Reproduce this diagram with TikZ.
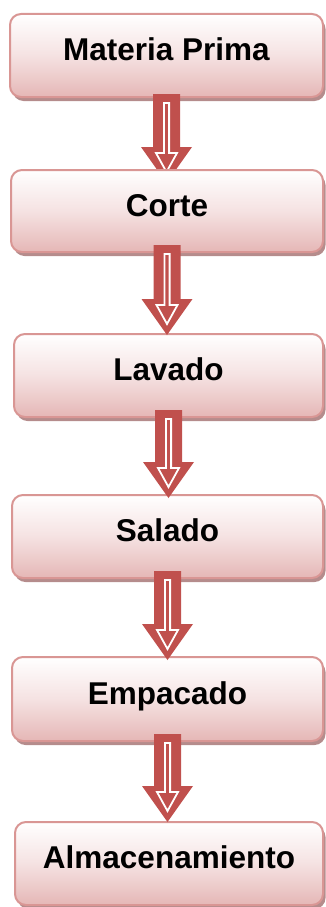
\documentclass[tikz,border=0pt]{standalone}
\usepackage{fontspec}
\setmainfont{Liberation Sans}
\usetikzlibrary{calc,shadows}

\definecolor{boxline}{RGB}{217,150,148}
\definecolor{boxbottom}{RGB}{229,183,182}
\definecolor{boxmiddle}{RGB}{245,226,226}
\definecolor{boxshadow}{RGB}{181,140,140}
\definecolor{arrowred}{RGB}{192,80,77}

\pgfdeclarelayer{boxlow}
\pgfdeclarelayer{arrowlow}
\pgfdeclarelayer{arrowtop}
\pgfsetlayers{boxlow,arrowlow,main,arrowtop}

\tikzset{
  procbox/.style={draw=boxline, line width=2pt, rounded corners=11pt,
    top color=white, bottom color=boxbottom, middle color=boxmiddle,
    inner sep=0pt, text height=23pt, text depth=12.5pt,
    font=\fontsize{31.5}{36}\selectfont\bfseries,
    drop shadow={shadow xshift=2.5pt, shadow yshift=-4pt,
      fill=boxshadow, opacity=1}},
  arrowbody/.style={fill=arrowred},
  arrowinner/.style={draw=white, line width=1.8pt, fill=arrowred, line join=miter}
}

% Hollow block arrow from the bottom of #1 to the top of #2;
% #3 = overlap into #1, #4 = distance the tip runs past the top of #2
\newcommand\flowarrow[4]{%
  \path[arrowbody] let \p1=(#1.south), \p2=(#2.north) in
    (\x1-13.5pt,\y1+#3pt) -- (\x1+13.5pt,\y1+#3pt) -- (\x1+13.5pt,\y2-#4pt+36pt)
    -- (\x1+25.5pt,\y2-#4pt+36pt) -- (\x1,\y2-#4pt) -- (\x1-25.5pt,\y2-#4pt+36pt)
    -- (\x1-13.5pt,\y2-#4pt+36pt) -- cycle;
  \path[arrowinner] let \p1=(#1.south), \p2=(#2.north) in
    (\x1-2.6pt,\y1+#3pt-9pt) -- (\x1+2.6pt,\y1+#3pt-9pt) -- (\x1+2.6pt,\y2-#4pt+30pt)
    -- (\x1+10.5pt,\y2-#4pt+30pt) -- (\x1,\y2-#4pt+11pt) -- (\x1-10.5pt,\y2-#4pt+30pt)
    -- (\x1-2.6pt,\y2-#4pt+30pt) -- cycle;
}

\begin{document}
\begin{tikzpicture}[x=1pt,y=1pt]
  \useasboundingbox (0,0) rectangle (326,-907);

  \begin{pgfonlayer}{boxlow}
    \node[procbox, minimum width=313pt, minimum height=83pt] (mp) at (166.5,-55.5) {Materia Prima};
  \end{pgfonlayer}
  \node[procbox, minimum width=312pt, minimum height=82pt] (corte) at (167,-211) {Corte};
  \node[procbox, minimum width=309pt, minimum height=83pt] (lavado) at (168.5,-375.5) {Lavado};
  \node[procbox, minimum width=311pt, minimum height=83pt] (salado) at (167.5,-536.5) {Salado};
  \node[procbox, minimum width=311pt, minimum height=84pt] (empacado) at (167.5,-699) {Empacado};
  \node[procbox, minimum width=308pt, minimum height=83pt] (almac) at (169,-863.5) {Almacenamiento};

  \begin{pgfonlayer}{arrowlow}
    \flowarrow{mp}{corte}{4}{14}
  \end{pgfonlayer}
  \begin{pgfonlayer}{arrowtop}
    \flowarrow{corte}{lavado}{8}{2}
    \flowarrow{lavado}{salado}{8}{4}
    \flowarrow{salado}{empacado}{8}{4}
    \flowarrow{empacado}{almac}{8}{1}
  \end{pgfonlayer}
\end{tikzpicture}
\end{document}
